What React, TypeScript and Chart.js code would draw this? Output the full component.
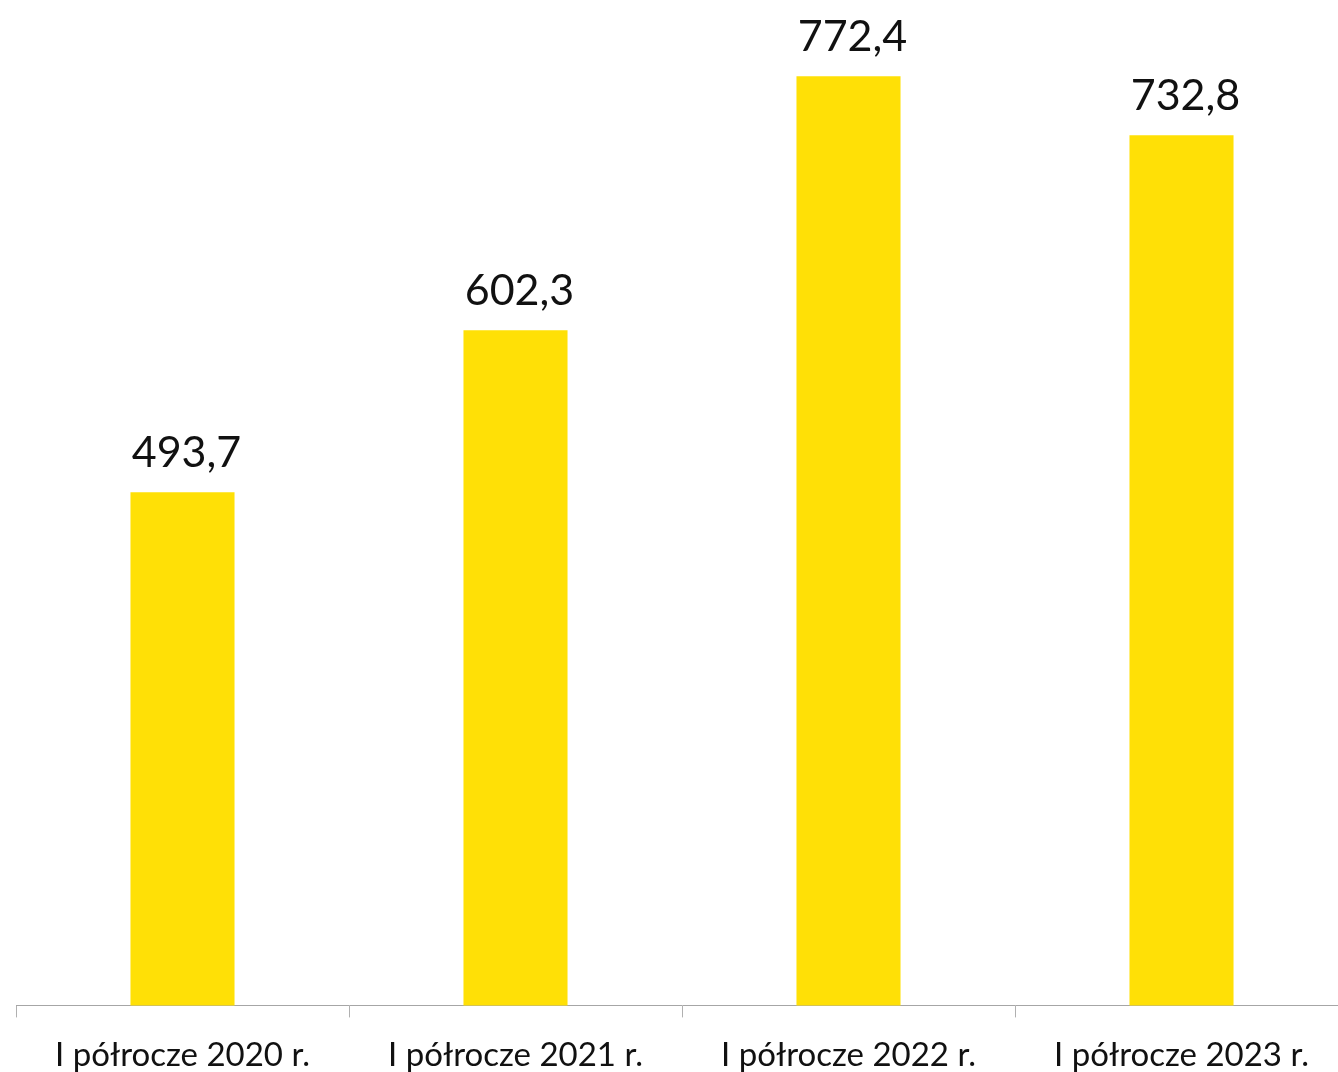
import React, { useEffect, useRef } from "react";
import { Chart, registerables } from "chart.js";

Chart.register(...registerables);

const categories = ["I półrocze 2020 r.", "I półrocze 2021 r.", "I półrocze 2022 r.", "I półrocze 2023 r."];
const values = [493.7, 602.3, 772.4, 732.8];
const valueLabels = ["493,7", "602,3", "772,4", "732,8"];

const barColor = "#FFE006";
const fontFamily = "Lato, 'Open Sans', sans-serif";

const valueLabelPlugin = {
  id: "valueLabels",
  afterDatasetsDraw(chart: any) {
    const ctx = chart.ctx;
    const meta = chart.getDatasetMeta(0);
    ctx.save();
    ctx.fillStyle = "#111111";
    ctx.font = `43px ${fontFamily}`;
    ctx.textAlign = "center";
    ctx.textBaseline = "alphabetic";
    meta.data.forEach((bar: any, i: number) => {
      ctx.fillText(valueLabels[i], bar.x + 4, bar.y - 25);
    });
    ctx.restore();
  },
};

export default function App() {
  const ref = useRef<HTMLCanvasElement | null>(null);
  useEffect(() => {
    if (!ref.current) return;
    const chart = new Chart(ref.current, {
      type: "bar",
      data: {
        labels: categories,
        datasets: [
          {
            data: values,
            backgroundColor: barColor,
            borderWidth: 0,
            barPercentage: 1,
            categoryPercentage: 0.3125,
          },
        ],
      },
      options: {
        animation: false,
        responsive: false,
        maintainAspectRatio: false,
        layout: { padding: { left: 16, right: 2, top: 35, bottom: 0 } },
        plugins: { legend: { display: false }, tooltip: { enabled: false } },
        scales: {
          x: {
            grid: {
              display: true,
              drawOnChartArea: false,
              drawTicks: true,
              tickLength: 12,
              color: "#b0b0b0",
              offset: true,
            },
            border: { display: true, color: "#a6a6a6", width: 1 },
            ticks: {
              color: "#111111",
              font: { family: fontFamily, size: 33 },
              padding: 18,
              maxRotation: 0,
              autoSkip: false,
            },
          },
          y: {
            display: false,
            min: 150,
            max: 800,
          },
        },
      },
      plugins: [valueLabelPlugin],
    });
    return () => chart.destroy();
  }, []);
  return (
    <div style={{ position: "fixed", left: 0, top: 0, width: 1338, height: 1072, overflow: "hidden", background: "#fff" }}>
      <canvas ref={ref} width={1350} height={1093} style={{ display: "block" }} />
    </div>
  );
}
